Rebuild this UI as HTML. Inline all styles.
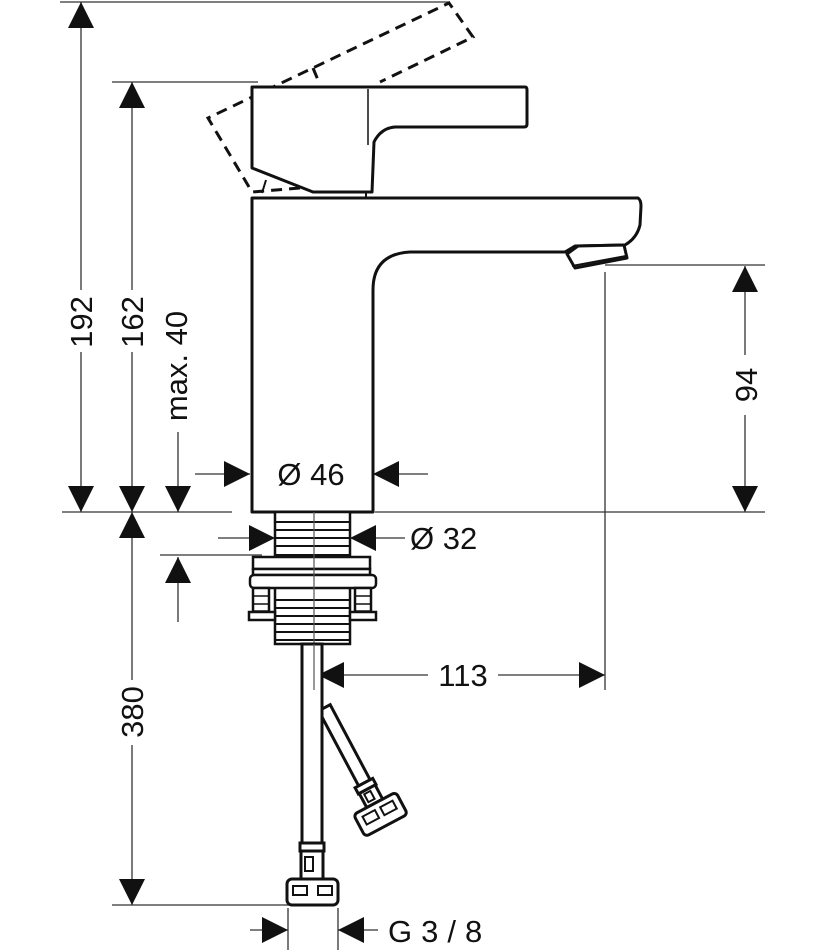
<!DOCTYPE html>
<html><head><meta charset="utf-8"><style>
html,body{margin:0;padding:0;background:#fff;}
svg{display:block;}
text{font-family:"Liberation Sans","DejaVu Sans",sans-serif;font-size:31px;fill:#111;}
</style></head><body>
<svg width="831" height="950" viewBox="0 0 831 950" xmlns="http://www.w3.org/2000/svg">
<defs>
<marker id="a" viewBox="0 0 26 26" refX="26" refY="13" markerWidth="26" markerHeight="26" markerUnits="userSpaceOnUse" orient="auto"><path d="M0,0 L26,13 L0,26Z" fill="#111"/></marker>
</defs>
<g stroke="#333" stroke-width="1.3" fill="none">
<line x1="60" y1="2" x2="450" y2="2"/>
<line x1="112" y1="82" x2="258" y2="82"/>
<line x1="62" y1="512" x2="232" y2="512"/>
<line x1="375" y1="512" x2="765" y2="512"/>
<line x1="112" y1="905" x2="290" y2="905"/>
<line x1="160" y1="555" x2="262" y2="555"/>
<line x1="605" y1="265" x2="765" y2="265"/>
<line x1="605" y1="272" x2="605" y2="690"/>
<line x1="288" y1="908" x2="288" y2="950"/>
<line x1="338" y1="908" x2="338" y2="950"/>
<line x1="81" y1="290" x2="81" y2="2" marker-end="url(#a)"/>
<line x1="81" y1="352" x2="81" y2="512" marker-end="url(#a)"/>
<line x1="132" y1="290" x2="132" y2="82" marker-end="url(#a)"/>
<line x1="132" y1="352" x2="132" y2="512" marker-end="url(#a)"/>
<line x1="178" y1="432" x2="178" y2="512" marker-end="url(#a)"/>
<line x1="132" y1="680" x2="132" y2="512" marker-end="url(#a)"/>
<line x1="132" y1="745" x2="132" y2="905" marker-end="url(#a)"/>
<line x1="178" y1="622" x2="178" y2="557" marker-end="url(#a)"/>
<line x1="745" y1="355" x2="745" y2="266" marker-end="url(#a)"/>
<line x1="745" y1="415" x2="745" y2="512" marker-end="url(#a)"/>
<line x1="195" y1="474" x2="250" y2="474" marker-end="url(#a)"/>
<line x1="428" y1="474" x2="373" y2="474" marker-end="url(#a)"/>
<line x1="218" y1="538" x2="275" y2="538" marker-end="url(#a)"/>
<line x1="405" y1="538" x2="350" y2="538" marker-end="url(#a)"/>
<line x1="428" y1="675" x2="318" y2="675" marker-end="url(#a)"/>
<line x1="498" y1="675" x2="605" y2="675" marker-end="url(#a)"/>
<line x1="250" y1="930" x2="288" y2="930" marker-end="url(#a)"/>
<line x1="378" y1="930" x2="338" y2="930" marker-end="url(#a)"/>
</g>
<g stroke="#111" stroke-width="3" fill="none" stroke-dasharray="11,7">
<polyline points="300,188 252,192 208,118 449,3 473,37 380,82"/>
<polyline points="313,68 318,80"/>
</g>
<g stroke="#111" stroke-width="3" fill="#fff" stroke-linejoin="round">
<path d="M252,512 L252,198 L638,198 Q641,200 641,206 L640,225 Q637,238 625,245 L575,246 L565,252 L410,252 Q373,254 373,290 L373,512 Z"/>
<path d="M567,254 L578,246 L624,245 L627,258 L575,268 Z"/>
<line x1="572" y1="266" x2="626" y2="256" stroke-width="2"/>
<path d="M252,87 L525,87 Q527,87 527,90 L527,124 Q527,127 524,127 L395,127 Q381,128 374,142 L372,192 L313,192 L252,168 Z"/>
<line x1="368" y1="89" x2="368" y2="145" stroke-width="1.5"/>
<path d="M262,193 L266,180 M366,192 L366,198" stroke-width="2"/>
</g>
<g stroke="#111" stroke-width="2.5" fill="#fff">
<rect x="275" y="512" width="75" height="132"/>
<path d="M275,522 H350 M275,530 H350 M275,538 H350 M275,546 H350 M275,555 H350 M275,600 H350 M275,608 H350 M275,616 H350 M275,624 H350 M275,632 H350 M275,640 H350" stroke-width="2"/>
<rect x="253" y="557" width="117" height="12"/>
<rect x="253" y="569" width="117" height="6"/>
<rect x="250" y="575" width="126" height="13" rx="4"/>
<rect x="253" y="588" width="16" height="30"/>
<rect x="355" y="588" width="16" height="30"/>
<path d="M253,596 H269 M253,604 H269 M253,611 H269 M355,596 H371 M355,604 H371 M355,611 H371" stroke-width="1.5"/>
<rect x="249" y="612" width="26" height="8"/>
<rect x="350" y="612" width="26" height="8"/>
<line x1="314" y1="512" x2="314" y2="690" stroke="#555" stroke-width="1.2"/>
</g>
<g stroke="#111" stroke-width="3" fill="#fff">
<g transform="translate(324,708) rotate(-28)">
<rect x="-6" y="0" width="13" height="85"/>
<rect x="-10" y="85" width="20" height="7"/>
<rect x="-9" y="92" width="18" height="16"/>
<rect x="-5" y="95" width="7" height="9" stroke-width="2"/>
<rect x="-24" y="108" width="48" height="25" rx="4"/>
<rect x="-17" y="114" width="14" height="9" stroke-width="2"/>
<rect x="3" y="114" width="14" height="9" stroke-width="2"/>
</g>
<rect x="302" y="644" width="20" height="199"/>
<rect x="300" y="843" width="24" height="8"/>
<rect x="301" y="851" width="22" height="28"/>
<rect x="305" y="857" width="8" height="14" stroke-width="2"/>
<rect x="287" y="879" width="51" height="26" rx="5"/>
<rect x="293" y="886" width="14" height="9" stroke-width="2"/>
<rect x="318" y="886" width="14" height="9" stroke-width="2"/>
<line x1="314" y1="644" x2="314" y2="690" stroke="#555" stroke-width="1.2"/>
</g>
<text transform="translate(92,322) rotate(-90)" text-anchor="middle">192</text>
<text transform="translate(143,322) rotate(-90)" text-anchor="middle">162</text>
<text transform="translate(187,366) rotate(-90)" text-anchor="middle" font-size="28">max. 40</text>
<text transform="translate(143,712) rotate(-90)" text-anchor="middle">380</text>
<text transform="translate(757,385) rotate(-90)" text-anchor="middle">94</text>
<text x="311" y="485" text-anchor="middle">Ø 46</text>
<text x="410" y="549">Ø 32</text>
<text x="463" y="686" text-anchor="middle">113</text>
<text x="388" y="942" letter-spacing="9">G3/8</text>
</svg>
</body></html>
